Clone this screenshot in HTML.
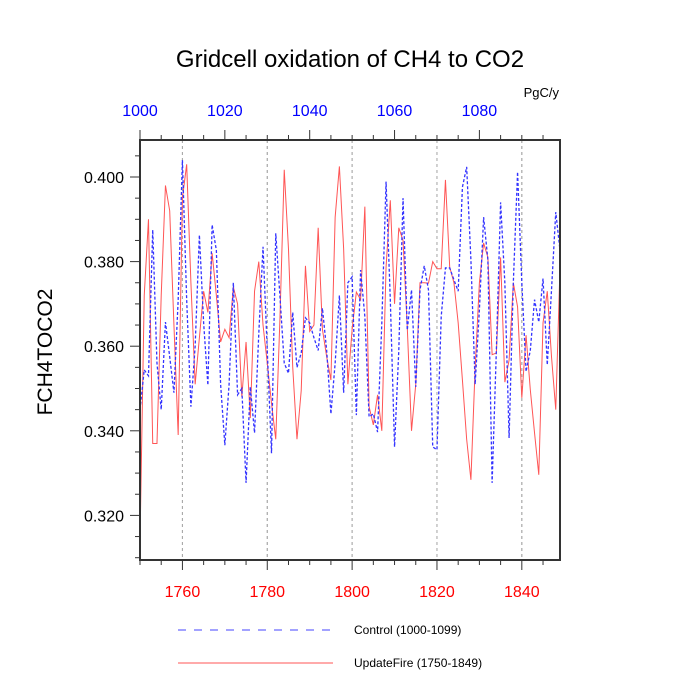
<!DOCTYPE html>
<html><head><meta charset="utf-8"><style>
body{margin:0;background:#fff;}
svg{display:block;font-family:"Liberation Sans",sans-serif;}
</style></head><body>
<svg id="chart" width="700" height="700" viewBox="0 0 700 700">
<text x="350" y="67" font-size="24" text-anchor="middle">Gridcell oxidation of CH4 to CO2</text>
<text x="559" y="97" font-size="13" text-anchor="end">PgC/y</text>
<text transform="translate(52,352) rotate(-90)" font-size="21" text-anchor="middle">FCH4TOCO2</text>
<g id="grid"></g>
<g id="series"></g>
<rect x="140" y="140" width="420" height="420" fill="none" stroke="#333" stroke-width="2"/>
<g id="axes"></g>
<g>
<line x1="178" y1="630" x2="333" y2="630" stroke="#4444ff" stroke-width="1" stroke-dasharray="8,8"/>
<text x="354" y="634" font-size="12">Control (1000-1099)</text>
<line x1="178" y1="663" x2="333" y2="663" stroke="#ff5555" stroke-width="1"/>
<text x="354" y="667" font-size="12">UpdateFire (1750-1849)</text>
</g>
</svg>
<script>
const updateFire=[0.314,0.372,0.390,0.337,0.337,0.372,0.398,0.392,0.365,0.339,0.395,0.403,0.375,0.351,0.362,0.373,0.368,0.382,0.372,0.361,0.364,0.362,0.374,0.370,0.348,0.361,0.343,0.373,0.380,0.365,0.356,0.3465,0.338,0.367,0.4017,0.383,0.355,0.338,0.3495,0.379,0.3635,0.365,0.388,0.364,0.3575,0.352,0.3905,0.4025,0.383,0.351,0.364,0.3728,0.371,0.393,0.3457,0.3414,0.3485,0.340,0.3787,0.3945,0.370,0.388,0.385,0.3645,0.340,0.351,0.375,0.375,0.3749,0.380,0.3783,0.3783,0.3993,0.3787,0.375,0.3655,0.352,0.338,0.3284,0.355,0.375,0.3844,0.381,0.358,0.3584,0.381,0.3515,0.3567,0.375,0.3693,0.3478,0.3626,0.3497,0.3395,0.3296,0.3655,0.373,0.3575,0.345,0.3787];
const control=[0.345,0.3544,0.353,0.3875,0.356,0.345,0.3657,0.3575,0.349,0.371,0.404,0.371,0.3457,0.360,0.3863,0.3655,0.3508,0.3887,0.3827,0.351,0.3366,0.351,0.375,0.3485,0.350,0.3277,0.3504,0.3395,0.363,0.3835,0.359,0.3347,0.3867,0.3716,0.356,0.3536,0.368,0.355,0.3584,0.3667,0.3655,0.362,0.359,0.369,0.359,0.344,0.356,0.372,0.349,0.375,0.3764,0.3437,0.378,0.367,0.3433,0.344,0.3397,0.3655,0.3989,0.371,0.3362,0.359,0.395,0.3638,0.3733,0.3504,0.3733,0.379,0.3733,0.3362,0.3355,0.367,0.3785,0.3785,0.3757,0.373,0.3976,0.4024,0.3804,0.351,0.3686,0.3905,0.3804,0.3277,0.359,0.394,0.375,0.3383,0.375,0.4012,0.375,0.354,0.359,0.371,0.3657,0.376,0.3556,0.3733,0.3917,0.3827];
const bottomTicks=[1760,1780,1800,1820,1840];
const topTicks=[1000,1020,1040,1060,1080];
const yTicks=[0.320,0.340,0.360,0.380,0.400];
const xStart=1750, topStart=1000;
const NS='http://www.w3.org/2000/svg';
function xs(yr){return 140+(yr-xStart)*4.2424;}
function xt(yr){return 140+(yr-topStart)*4.2424;}
function ys(v){return 177-(v-0.400)*4230;}
function mk(tag,attrs,parent,txt){const e=document.createElementNS(NS,tag);for(const k in attrs)e.setAttribute(k,attrs[k]);if(txt!==undefined)e.textContent=txt;parent.appendChild(e);return e;}
const grid=document.getElementById('grid'),ser=document.getElementById('series'),ax=document.getElementById('axes');
bottomTicks.forEach(t=>{const g=mk('line',{x1:xs(t),x2:xs(t),y1:140,y2:560,stroke:'#aaa','stroke-width':1,'stroke-dasharray':'3,3'},grid);

});
topTicks.forEach(t=>{const x=xt(t+10);if(x<560){const g=mk('line',{x1:x,x2:x,y1:140,y2:560,stroke:'#aaa','stroke-width':1,'stroke-dasharray':'3,3'},grid);

}});
function path(arr,fx){return arr.map((v,i)=>(i?'L':'M')+fx(xStart+i).toFixed(2)+','+ys(v).toFixed(2)).join(' ');}
const pr=mk('path',{d:path(updateFire,xs),fill:'none',stroke:'#ff5555','stroke-width':1},ser);


const pb=mk('path',{d:path(control,xs),fill:'none',stroke:'#3333ff','stroke-width':1.3,'stroke-dasharray':'3,2'},ser);


for(let yr=1750;yr<=1849;yr+=5){const maj=(yr%20===0);mk('line',{x1:xs(yr),x2:xs(yr),y1:560,y2:maj?570:565,stroke:'#333','stroke-width':1},ax);}
bottomTicks.forEach(t=>{const e=mk('text',{x:xs(t),y:597,'font-size':16,'text-anchor':'middle',fill:'#ff0000'},ax,String(t));

});
for(let yr=1000;yr<=1099;yr+=5){const maj=(yr%20===0);mk('line',{x1:xt(yr),x2:xt(yr),y1:140,y2:maj?130:135,stroke:'#333','stroke-width':1},ax);}
topTicks.forEach(t=>{const e=mk('text',{x:xt(t),y:116,'font-size':16,'text-anchor':'middle',fill:'#0000ff'},ax,String(t));

});
for(let k=0;k<=20;k++){const v=0.310+k*0.005;const y=ys(v);if(y<141||y>559)continue;const maj=Math.abs((v*1000)%20)<0.01||Math.abs((v*1000)%20-20)<0.01;mk('line',{x1:140,x2:maj?130:135,y1:y,y2:y,stroke:'#333','stroke-width':1},ax);}
yTicks.forEach(t=>{const e=mk('text',{x:124,y:ys(t)+6,'font-size':16,'text-anchor':'end',fill:'#000'},ax,t.toFixed(3));

});
</script>
</body></html>
